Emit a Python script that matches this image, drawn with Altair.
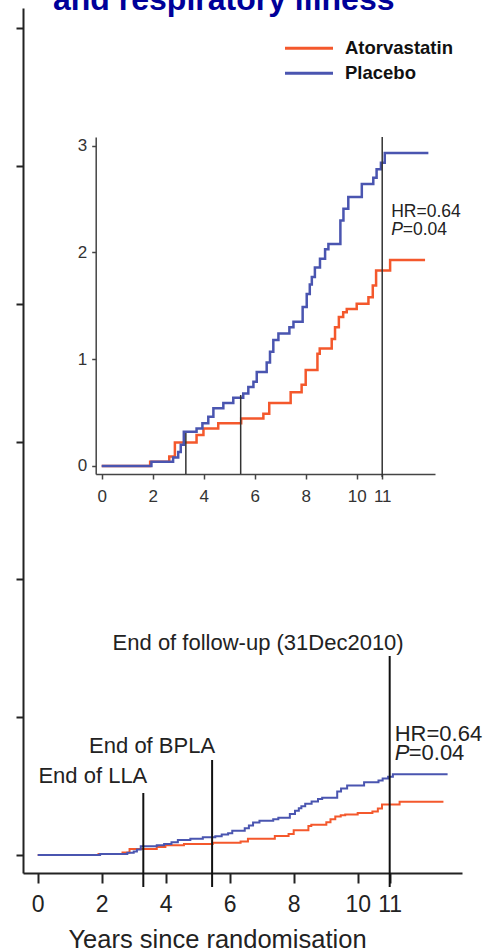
import altair as alt
import pandas as pd

# Cumulative incidence (%) by treatment arm, step points (year, %)
ator_years = [0, 1.9, 2.65, 2.87, 3.72, 3.99, 4.57, 5.47, 6.34, 6.57, 7.41, 7.84, 8.0,
              8.46, 8.55, 9.02, 9.15, 9.3, 9.47, 9.61, 10.0, 10.46, 10.63, 10.76, 11.31, 12.68]
ator_pct = [0, 0.04, 0.09, 0.22, 0.29, 0.35, 0.40, 0.445, 0.49, 0.59, 0.69, 0.76, 0.90,
            1.05, 1.10, 1.19, 1.30, 1.395, 1.44, 1.47, 1.52, 1.58, 1.69, 1.83, 1.93, 1.93]

plac_years = [0, 1.95, 2.8, 3.0, 3.1, 3.22, 3.72, 3.95, 4.18, 4.38, 4.77, 5.16, 5.55, 5.75,
              5.95, 6.08, 6.47, 6.6, 6.73, 6.93, 7.36, 7.52, 7.88, 8.04, 8.16, 8.24, 8.36,
              8.56, 8.76, 8.89, 9.36, 9.48, 9.67, 10.2, 10.65, 10.78, 10.95, 11.1, 12.81]
plac_pct = [0, 0.04, 0.08, 0.13, 0.2, 0.32, 0.35, 0.40, 0.46, 0.54, 0.59, 0.64, 0.68, 0.74,
            0.79, 0.88, 0.97, 1.07, 1.18, 1.24, 1.30, 1.35, 1.49, 1.61, 1.70, 1.77, 1.86,
            1.94, 2.03, 2.08, 2.30, 2.41, 2.52, 2.64, 2.70, 2.78, 2.84, 2.93, 2.93]

series = ["Atorvastatin", "Placebo"]
series_colors = ["#f4582c", "#4a55b0"]

year_ticks = [0, 2, 4, 6, 8, 10, 11]
main_ticks = [0, 5, 10, 15, 20, 25, 30]
inset_ticks = [0, 1, 2, 3]

marker_years = [3.3, 5.45, 11]
marker_labels = ["End of LLA", "End of BPLA", "End of follow-up (31Dec2010)"]
hr_label = "HR=0.64"
p_label = "P"
p_value = "=0.04"
heading = "and respiratory illness"
x_title = "Years since randomisation"

curves = pd.concat([
    pd.DataFrame({"year": ator_years, "pct": ator_pct, "series": series[0]}),
    pd.DataFrame({"year": plac_years, "pct": plac_pct, "series": series[1]}),
])
markers = pd.DataFrame({"year": marker_years, "label": marker_labels})

FONT = "Liberation Sans"
INK = "#222222"
W, H = 439, 865

color = alt.Color("series:N", scale=alt.Scale(domain=series, range=series_colors), legend=None)

# ---------------- main panel ----------------
main_x = alt.X(
    "year:Q",
    scale=alt.Scale(domain=[-0.46, 13.26], nice=False, zero=False),
    axis=alt.Axis(values=year_ticks, title=x_title, grid=False, tickSize=10, tickWidth=2,
                  tickColor=INK, domainColor=INK, domainWidth=2, labelFontSize=23,
                  labelFont=FONT, labelColor=INK, labelPadding=10, labelOverlap=False,
                  labelFlush=False, labelBound=False, titleFont=FONT, titleFontSize=25.5,
                  titleFontWeight="normal", titleColor=INK, titleX=194, titleY=74,
                  titleBaseline="alphabetic", titleAlign="center", titleAnchor="start"),
)
main_y = alt.Y(
    "pct:Q",
    scale=alt.Scale(domain=[-0.653, 30.73], nice=False, zero=False),
    axis=alt.Axis(values=main_ticks, labels=False, title=None, grid=False, tickSize=7,
                  tickWidth=2, tickColor=INK, domainColor=INK, domainWidth=2),
)

main_curves = alt.Chart(curves).mark_line(interpolate="step-after", strokeWidth=2).encode(
    x=main_x, y=main_y, color=color, detail="series:N"
)

marker_tops = [785, 752, 648]
main_rules = alt.layer(*[
    alt.Chart(markers).transform_filter(alt.datum.label == lab)
    .mark_rule(color="#111111", strokeWidth=2)
    .encode(x="year:Q", y=alt.value(top), y2=alt.value(879))
    for lab, top in zip(marker_labels, marker_tops)
])

label_specs = [(marker_labels[0], 775, 4), (marker_labels[1], 745, 3), (marker_labels[2], 642, 14)]
main_labels = alt.layer(*[
    alt.Chart(markers).transform_filter(alt.datum.label == lab)
    .mark_text(align="right", baseline="alphabetic", dx=dx, font=FONT, fontSize=22, color=INK)
    .encode(x="year:Q", y=alt.value(yy), text="label:N")
    for lab, yy, dx in label_specs
])

follow_up = markers[markers["year"] == 11]
main_hr = alt.Chart(follow_up).mark_text(
    align="left", baseline="alphabetic", dx=5, font=FONT, fontSize=22, color=INK
).encode(x="year:Q", y=alt.value(733), text=alt.value(hr_label))
main_p = alt.Chart(follow_up).mark_text(
    align="left", baseline="alphabetic", dx=5, font=FONT, fontSize=22, fontStyle="italic", color=INK
).encode(x="year:Q", y=alt.value(752), text=alt.value(p_label))
main_pv = alt.Chart(follow_up).mark_text(
    align="left", baseline="alphabetic", dx=19, font=FONT, fontSize=22, color=INK
).encode(x="year:Q", y=alt.value(752), text=alt.value(p_value))

# heading and legend
head = alt.Chart(pd.DataFrame({"t": [heading]})).mark_text(
    align="left", baseline="alphabetic", font=FONT, fontSize=32, fontWeight="bold", color="#000099"
).encode(x=alt.value(30), y=alt.value(2), text="t:N")

legend_df = pd.DataFrame({"series": series})
legend_parts = []
for i, s in enumerate(series):
    base = alt.Chart(legend_df).transform_filter(alt.datum.series == s)
    legend_parts.append(
        base.mark_rule(strokeWidth=3).encode(
            x=alt.value(262), x2=alt.value(310), y=alt.value(40.3 + 25 * i), color=color)
    )
    legend_parts.append(
        base.mark_text(align="left", baseline="alphabetic", font=FONT, fontSize=18.5,
                       fontWeight="bold", color="#111111").encode(
            x=alt.value(322), y=alt.value(45.8 + 25 * i), text="series:N")
    )

main = alt.layer(main_curves, main_rules, main_labels, main_hr, main_p, main_pv, head, *legend_parts)

# ---------------- inset panel ----------------
inset_x = alt.X(
    "year:Q",
    scale=alt.Scale(domain=[-0.235, 13.07], range=[72.7, 412], nice=False, zero=False),
    axis=alt.Axis(values=year_ticks, title=None, grid=False, orient="bottom", offset=-399,
                  tickSize=5, tickWidth=1.5, tickColor="#444444", domainColor="#444444",
                  domainWidth=1.5, labelFontSize=17, labelFont=FONT, labelColor="#333333",
                  labelPadding=9, labelOverlap=False, labelFlush=False, labelBound=False),
)
inset_y = alt.Y(
    "pct:Q",
    scale=alt.Scale(domain=[-0.075, 3.081], range=[466, 129], nice=False, zero=False),
    axis=alt.Axis(values=inset_ticks, title=None, grid=False, orient="left", offset=-72.7,
                  tickSize=4, tickWidth=1.5, tickColor="#444444", domainColor="#444444",
                  domainWidth=1.5, labelFontSize=17, labelFont=FONT, labelColor="#333333",
                  labelPadding=5, labelOverlap=False, labelFlush=False, labelBound=False),
)

inset_curves = alt.Chart(curves).mark_line(interpolate="step-after", strokeWidth=2.5).encode(
    x=inset_x, y=inset_y, color=color, detail="series:N"
)

inset_tops = [425, 387, 129]
inset_bottoms = [466, 466, 469]
inset_rules = alt.layer(*[
    alt.Chart(markers).transform_filter(alt.datum.label == lab)
    .mark_rule(color="#333333", strokeWidth=1.5)
    .encode(x="year:Q", y=alt.value(top), y2=alt.value(bot))
    for lab, top, bot in zip(marker_labels, inset_tops, inset_bottoms)
])

inset_hr = alt.Chart(follow_up).mark_text(
    align="left", baseline="alphabetic", dx=9, font=FONT, fontSize=17.5, color=INK
).encode(x="year:Q", y=alt.value(208.7), text=alt.value(hr_label))
inset_p = alt.Chart(follow_up).mark_text(
    align="left", baseline="alphabetic", dx=9, font=FONT, fontSize=17.5, fontStyle="italic", color=INK
).encode(x="year:Q", y=alt.value(227), text=alt.value(p_label))
inset_pv = alt.Chart(follow_up).mark_text(
    align="left", baseline="alphabetic", dx=20.5, font=FONT, fontSize=17.5, color=INK
).encode(x="year:Q", y=alt.value(227), text=alt.value(p_value))

inset = alt.layer(inset_curves, inset_rules, inset_hr, inset_p, inset_pv)

chart = (
    alt.layer(main, inset)
    .resolve_scale(x="independent", y="independent")
    .properties(
        width=W, height=H,
        padding={"left": 23, "top": 8, "right": 23, "bottom": 78},
        autosize=alt.AutoSizeParams(type="none"),
        background="white",
    )
    .configure_view(stroke=None)
)

chart.save("out.html", embed_options={"renderer": "svg", "actions": False})
